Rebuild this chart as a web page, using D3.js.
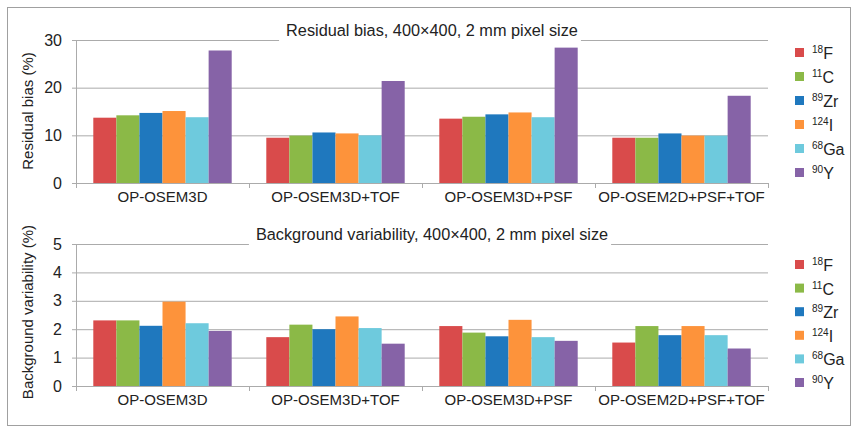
<!DOCTYPE html>
<html>
<head>
<meta charset="utf-8">
<script src="https://cdn.jsdelivr.net/npm/d3@7"></script>
<style>
  body { margin: 0; background: #fff; }
  svg { display: block; font-family: "Liberation Sans", Arial, sans-serif; }
</style>
</head>
<body>
<svg id="chart" width="857" height="427"></svg>
<script>
// categories and series
const categories = ['OP-OSEM3D', 'OP-OSEM3D+TOF', 'OP-OSEM3D+PSF', 'OP-OSEM2D+PSF+TOF'];
const isoMass = ['18', '11', '89', '124', '68', '90'];
const isoSymbol = ['F', 'C', 'Zr', 'I', 'Ga', 'Y'];
const isoColors = ['#d94b4b', '#8bb947', '#1f78be', '#fd933b', '#6ecadd', '#8663a7'];

// values per category, one per isotope (same order as isoMass)
const residualBias = [
  [13.7, 14.2, 14.7, 15.1, 13.8, 27.8],
  [9.5, 9.95, 10.6, 10.4, 10.0, 21.4],
  [13.5, 13.9, 14.4, 14.8, 13.8, 28.4],
  [9.5, 9.5, 10.4, 9.95, 9.95, 18.3]
];
const backgroundVar = [
  [2.31, 2.31, 2.12, 2.97, 2.21, 1.94],
  [1.72, 2.16, 2.0, 2.45, 2.04, 1.49],
  [2.11, 1.88, 1.75, 2.33, 1.72, 1.59],
  [1.53, 2.11, 1.79, 2.11, 1.79, 1.32]
];
const biasTicks = [0, 10, 20, 30];
const varTicks = [0, 1, 2, 3, 4, 5];

const svg = d3.select('#chart');
const gridColor = '#ababab';
const textColor = '#222';

// outer frame
svg.append('rect')
  .attr('x', 7.5).attr('y', 7.5)
  .attr('width', 843).attr('height', 418)
  .attr('fill', 'none').attr('stroke', '#a0a0a0');

const x0 = d3.scaleBand().domain(categories).range([76, 768]);
const bw = x0.bandwidth();
const x1 = d3.scaleBand().domain(d3.range(isoMass.length)).range([bw * 0.1, bw * 0.9]);

function drawPanel(opt) {
  const g = svg.append('g');
  const y = d3.scaleLinear().domain([0, opt.max]).range([opt.bottom, opt.top]);

  // grid + y tick labels
  g.append('g')
    .attr('transform', 'translate(76,0)')
    .call(d3.axisLeft(y).tickValues(opt.ticks).tickFormat(d3.format('d')).tickSize(0).tickPadding(14))
    .call(a => a.select('.domain').remove())
    .call(a => a.selectAll('.tick line')
      .attr('x1', -4).attr('x2', 768 - 76)
      .attr('stroke', gridColor))
    .call(a => a.selectAll('.tick text')
      .attr('fill', textColor)
      .style('font-size', '16px')
      .style('font-family', '"Liberation Sans", Arial, sans-serif'));

  // left axis line
  g.append('line')
    .attr('x1', 76.5).attr('x2', 76.5)
    .attr('y1', y(opt.max)).attr('y2', y(0) + 5)
    .attr('stroke', gridColor);

  // category boundary ticks
  const bounds = categories.map(c => x0(c)).concat([x0.range()[1]]);
  g.selectAll('line.bt').data(bounds).join('line')
    .attr('class', 'bt')
    .attr('x1', d => Math.round(d) + 0.5).attr('x2', d => Math.round(d) + 0.5)
    .attr('y1', y(0)).attr('y2', y(0) + 5)
    .attr('stroke', gridColor);

  // bars
  const groups = g.selectAll('g.cat').data(opt.values).join('g')
    .attr('class', 'cat')
    .attr('transform', (d, i) => `translate(${x0(categories[i])},0)`);
  groups.selectAll('rect').data(d => d).join('rect')
    .attr('x', (d, i) => x1(i))
    .attr('width', x1.bandwidth())
    .attr('y', d => y(d))
    .attr('height', d => y(0) - y(d))
    .attr('fill', (d, i) => isoColors[i]);

  // category labels
  g.selectAll('text.cat').data(categories).join('text')
    .attr('class', 'cat')
    .attr('x', d => x0(d) + bw / 2)
    .attr('y', y(0) + 19)
    .attr('text-anchor', 'middle')
    .attr('fill', textColor)
    .style('font-size', '15px')
    .text(d => d);

  // y axis title
  g.append('text')
    .attr('transform', `translate(33,${opt.titleY}) rotate(-90)`)
    .attr('text-anchor', 'middle')
    .attr('fill', textColor)
    .style('font-size', '15px')
    .text(opt.yLabel);

  // chart title with white box over the top gridline
  const title = g.append('text')
    .attr('x', 432)
    .attr('y', opt.top - 4)
    .attr('text-anchor', 'middle')
    .attr('fill', textColor)
    .style('font-size', '16.3px')
    .text(opt.title);
  const bb = title.node().getBBox();
  g.insert('rect', function () { return title.node(); })
    .attr('x', bb.x - 7).attr('y', bb.y)
    .attr('width', bb.width + 10).attr('height', bb.height + 2)
    .attr('fill', '#fff');

  // legend
  const leg = g.selectAll('g.leg').data(isoMass).join('g')
    .attr('class', 'leg')
    .attr('transform', (d, i) => `translate(795,${opt.legTop + i * opt.legStep})`);
  leg.append('rect')
    .attr('x', 0).attr('y', -5)
    .attr('width', 9).attr('height', 9)
    .attr('fill', (d, i) => isoColors[i]);
  const lt = leg.append('text')
    .attr('x', 17).attr('y', 6)
    .attr('fill', textColor);
  lt.append('tspan')
    .style('font-size', '10px')
    .attr('dy', -6)
    .text(d => d);
  lt.append('tspan')
    .style('font-size', '16px')
    .attr('dy', 6)
    .text((d, i) => isoSymbol[i]);
}

drawPanel({
  values: residualBias, max: 30, ticks: biasTicks,
  top: 40, bottom: 183,
  title: 'Residual bias, 400\u00d7400, 2 mm pixel size',
  yLabel: 'Residual bias (%)', titleY: 111,
  legTop: 53, legStep: 24
});

drawPanel({
  values: backgroundVar, max: 5, ticks: varTicks,
  top: 244, bottom: 386,
  title: 'Background variability, 400\u00d7400, 2 mm pixel size',
  yLabel: 'Background variability (%)', titleY: 312,
  legTop: 265, legStep: 23.6
});
</script>
</body>
</html>
